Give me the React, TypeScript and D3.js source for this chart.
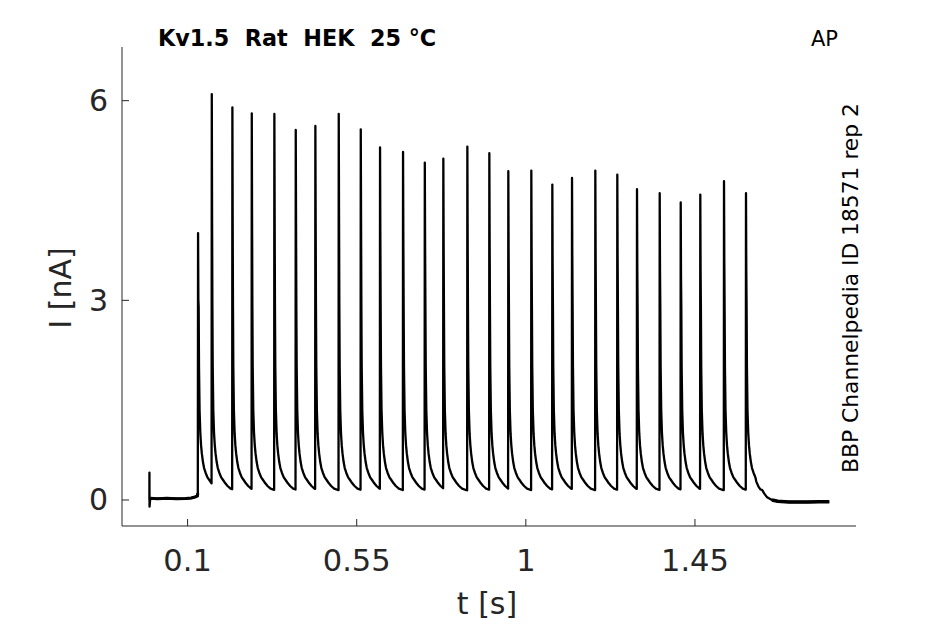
import React from "react";
import * as d3 from "d3";

// spike times (s) and peak currents (nA)
const spikeTimes = [
  0.1279, 0.1644, 0.2192, 0.2708, 0.3309, 0.3878, 0.44, 0.5022, 0.5608, 0.6121,
  0.6733, 0.7312, 0.7805, 0.8444, 0.9029, 0.9534, 1.0146, 1.0705, 1.1229, 1.1849,
  1.2434, 1.2958, 1.3562, 1.4121, 1.4642, 1.5273, 1.5858,
];
const spikePeaks = [
  4.01, 6.1, 5.9, 5.81, 5.8, 5.56, 5.62, 5.8, 5.57, 5.3, 5.23, 5.07, 5.13, 5.31,
  5.21, 4.94, 4.95, 4.74, 4.84, 4.95, 4.89, 4.67, 4.61, 4.47, 4.59, 4.79, 4.61,
];

// shape of the tail after each peak (ms after peak, nA)
const decayMs = [0, 0.8, 1.6, 2.5, 4, 6, 8, 10, 13, 16, 20, 25, 30, 36, 42, 50, 60, 70];
const decayNA = [0, 4.2, 2.9, 2.0, 1.35, 1.0, 0.82, 0.7, 0.57, 0.48, 0.41, 0.34, 0.3, 0.25, 0.21, 0.17, 0.15, 0.14];

// holding baseline before the train (stimulus artifact at the start)
const startT = [-0.0016, -0.0015, -0.0012, 0.0006, 0.02, 0.045, 0.07, 0.095, 0.11, 0.12, 0.1262, 0.1272];
const startI = [0.0, 0.41, -0.1, 0.025, 0.02, 0.025, 0.02, 0.022, 0.03, 0.045, 0.06, 0.1];

// return to baseline after the last spike
const endT = [1.613, 1.619, 1.624, 1.629, 1.634, 1.642, 1.655, 1.67, 1.7, 1.75, 1.78, 1.8074];
const endI = [0.28, 0.2, 0.16, 0.15, 0.1, 0.04, 0.0, -0.02, -0.03, -0.03, -0.028, -0.025];

const xTicks = [0.1, 0.55, 1, 1.45];
const xTickLabels = ["0.1", "0.55", "1", "1.45"];
const yTicks = [0, 3, 6];

const W = 945;
const H = 624;
const left = 122;
const right = 856;
const top = 47;
const bottom = 526;

const App: React.FC = () => {
  const x = d3.scaleLinear().domain([-0.0745, 1.8785]).range([left, right]);
  const y = d3.scaleLinear().domain([-0.391, 6.807]).range([bottom, top]);
  const tail = d3.scaleLinear().domain(decayMs).range(decayNA).clamp(true);

  const pts: [number, number][] = [];
  startT.forEach((t, i) => pts.push([t, startI[i]]));
  spikeTimes.forEach((t0, i) => {
    const peak = spikePeaks[i];
    pts.push([t0, peak]);
    const next = i < spikeTimes.length - 1 ? spikeTimes[i + 1] - 0.0006 : endT[0];
    for (let k = 1; k < decayMs.length; k++) {
      const t = t0 + decayMs[k] / 1000;
      if (t >= next) break;
      pts.push([t, Math.min(decayNA[k], peak * 0.75)]);
    }
    if (i < spikeTimes.length - 1) {
      pts.push([next, tail((next - t0) * 1000)]);
    }
  });
  endT.forEach((t, i) => pts.push([t, endI[i]]));

  const line = d3
    .line<[number, number]>()
    .x((d) => x(d[0]))
    .y((d) => y(d[1]));

  const basePre = startT.slice(3).map((t, i) => [t, startI[i + 3]] as [number, number]);
  const basePost = endT.slice(6).map((t, i) => [t, endI[i + 6]] as [number, number]);

  const axisColor = "#262626";
  const font = "DejaVu Sans, sans-serif";

  return (
    <div style={{ position: "absolute", left: 0, top: 0 }}>
      <svg width={W} height={H} style={{ display: "block", background: "#fff" }}>
        <path d={line(pts) || ""} fill="none" stroke="#000" strokeWidth={2.3} strokeLinejoin="round" />
        <path d={line(basePre) || ""} fill="none" stroke="#000" strokeWidth={3} />
        <path d={line(basePost) || ""} fill="none" stroke="#000" strokeWidth={3.5} />

        {/* axes */}
        <line x1={left} x2={left} y1={top} y2={bottom} stroke={axisColor} strokeWidth={1} />
        <line x1={left} x2={right} y1={bottom} y2={bottom} stroke={axisColor} strokeWidth={1} />
        {yTicks.map((v) => (
          <g key={"y" + v}>
            <line x1={left} x2={left + 7} y1={y(v)} y2={y(v)} stroke={axisColor} />
            <text
              x={108}
              y={y(v)}
              textAnchor="end"
              dominantBaseline="central"
              fontFamily={font}
              fontSize={30}
              fill={axisColor}
            >
              {v}
            </text>
          </g>
        ))}
        {xTicks.map((v, i) => (
          <g key={"x" + v}>
            <line x1={x(v)} x2={x(v)} y1={bottom} y2={bottom - 7} stroke={axisColor} />
            <text x={x(v)} y={571} textAnchor="middle" fontFamily={font} fontSize={30.5} fill={axisColor}>
              {xTickLabels[i]}
            </text>
          </g>
        ))}

        <text x={487} y={614} textAnchor="middle" fontFamily={font} fontSize={30} fill={axisColor}>
          t [s]
        </text>
        <text
          transform="translate(71,288) rotate(-90)"
          textAnchor="middle"
          fontFamily={font}
          fontSize={30}
          fill={axisColor}
        >
          I [nA]
        </text>

        <text
          x={158}
          y={46}
          fontFamily={font}
          fontSize={22.3}
          fontWeight="bold"
          fill="#000"
          style={{ whiteSpace: "pre" }}
        >
          {"Kv1.5  Rat  HEK  25 °C"}
        </text>
        <text x={811} y={46} fontFamily={font} fontSize={21} fill="#000">
          AP
        </text>
        <text
          transform="translate(858,288) rotate(-90)"
          textAnchor="middle"
          fontFamily={font}
          fontSize={21.8}
          fill="#000"
        >
          BBP Channelpedia ID 18571 rep 2
        </text>
      </svg>
    </div>
  );
};

export default App;
